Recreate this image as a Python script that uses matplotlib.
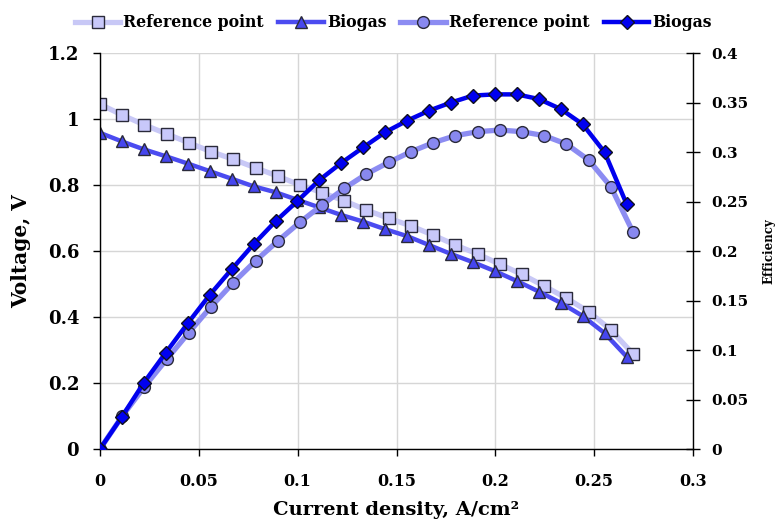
import matplotlib
matplotlib.use("Agg")
import matplotlib.pyplot as plt
from matplotlib.ticker import MultipleLocator, FuncFormatter

plt.rcParams['font.family'] = ['DejaVu Serif']
plt.rcParams['font.weight'] = 'bold'

# Current density, A/cm2
j_ref = [0, 0.0112, 0.0225, 0.0337, 0.0449, 0.0562, 0.0674, 0.0787, 0.0899, 0.1011,
         0.1124, 0.1236, 0.1348, 0.1461, 0.1573, 0.1686, 0.1798, 0.1910, 0.2023, 0.2135,
         0.2247, 0.2360, 0.2472, 0.2584, 0.2697]
j_bio = [0, 0.0111, 0.0222, 0.0333, 0.0444, 0.0555, 0.0666, 0.0777, 0.0888, 0.0999,
         0.1110, 0.1221, 0.1332, 0.1443, 0.1554, 0.1665, 0.1776, 0.1887, 0.1998, 0.2109,
         0.2220, 0.2331, 0.2442, 0.2553, 0.2664]

# Cell voltage, V
v_ref = [1.045, 1.012, 0.982, 0.955, 0.928, 0.901, 0.878, 0.852, 0.827, 0.800,
         0.777, 0.752, 0.724, 0.699, 0.676, 0.648, 0.618, 0.591, 0.560, 0.529,
         0.494, 0.457, 0.416, 0.361, 0.288]
v_bio = [0.958, 0.932, 0.908, 0.887, 0.865, 0.842, 0.819, 0.796, 0.778, 0.755,
         0.732, 0.709, 0.689, 0.666, 0.645, 0.618, 0.591, 0.566, 0.539, 0.509,
         0.477, 0.443, 0.403, 0.351, 0.280]

# Efficiency
eff_ref = [0, 0.033, 0.063, 0.0906, 0.1175, 0.1438, 0.168, 0.190, 0.210, 0.229,
           0.2465, 0.2633, 0.2778, 0.2896, 0.3003, 0.3094, 0.3165, 0.3205, 0.3222, 0.3205,
           0.3165, 0.308, 0.2919, 0.265, 0.2189]
eff_bio = [0, 0.0326, 0.067, 0.0973, 0.127, 0.1556, 0.1815, 0.2068, 0.230, 0.2505,
           0.2717, 0.289, 0.3047, 0.320, 0.3317, 0.3418, 0.350, 0.357, 0.3582, 0.3582,
           0.3535, 0.3434, 0.328, 0.2997, 0.2475]

labels = ["Reference point", "Biogas", "Reference point", "Biogas"]

fig = plt.figure(figsize=(7.76, 5.22), dpi=100)
ax = fig.add_axes([100 / 776, 1 - 449 / 522, 593 / 776, 396 / 522])
ax2 = ax.twinx()

edge = '#2a2a3a'
l1, = ax.plot(j_ref, v_ref, color='#c8c8f6', lw=3.8, marker='s', ms=8,
              mfc='#c8c8fa', mec=edge, mew=1.0, label=labels[0])
l2, = ax.plot(j_bio, v_bio, color='#4b4bf0', lw=3.2, marker='^', ms=9,
              mfc='#4646ee', mec=edge, mew=1.0, label=labels[1])
l3, = ax2.plot(j_ref, eff_ref, color='#8c8cf2', lw=3.8, marker='o', ms=8.5,
               mfc='#8888f0', mec=edge, mew=1.0, label=labels[2])
l4, = ax2.plot(j_bio, eff_bio, color='#0000ee', lw=3.2, marker='D', ms=7,
               mfc='#0000f0', mec='#101020', mew=1.0, label=labels[3])

ax.set_xlim(0, 0.3)
ax.set_ylim(0, 1.2)
ax2.set_ylim(0, 0.4)

ax.xaxis.set_major_locator(MultipleLocator(0.05))
ax.yaxis.set_major_locator(MultipleLocator(0.2))
ax2.yaxis.set_major_locator(MultipleLocator(0.05))

fmt = FuncFormatter(lambda v, p: ('%g' % round(v, 3)))
ax.xaxis.set_major_formatter(fmt)
ax.yaxis.set_major_formatter(fmt)
ax2.yaxis.set_major_formatter(fmt)

ax.grid(True, color='#d6d6d6', lw=1.0)
ax.set_axisbelow(True)

for a in (ax, ax2):
    a.spines['top'].set_visible(False)
    for s in a.spines.values():
        s.set_linewidth(1.0)
ax.spines['right'].set_visible(False)
ax2.spines['left'].set_visible(False)
ax2.spines['bottom'].set_visible(False)

ax.tick_params(axis='x', direction='out', length=5, width=1, labelsize=11.5, pad=12)
ax.tick_params(axis='y', direction='out', length=5, width=1, labelsize=13, pad=10)
ax2.tick_params(axis='y', direction='inout', length=10, width=1, labelsize=11, pad=8)

ax.set_xlabel("Current density, A/cm²", fontsize=14, fontweight='bold', labelpad=8)
ax.set_ylabel("Voltage, V", fontsize=14.5, fontweight='bold', labelpad=12)
ax2.set_ylabel("Efficiency", fontsize=8.5, fontweight='bold', labelpad=10, rotation=90)

fig.legend(handles=[l1, l2, l3, l4], loc='center', bbox_to_anchor=(0.507, 0.956),
           ncol=4, frameon=False, fontsize=11.3, numpoints=1, handlelength=2.9,
           handletextpad=0.2, columnspacing=0.9, borderaxespad=0)

fig.savefig("out.png", dpi=100)
